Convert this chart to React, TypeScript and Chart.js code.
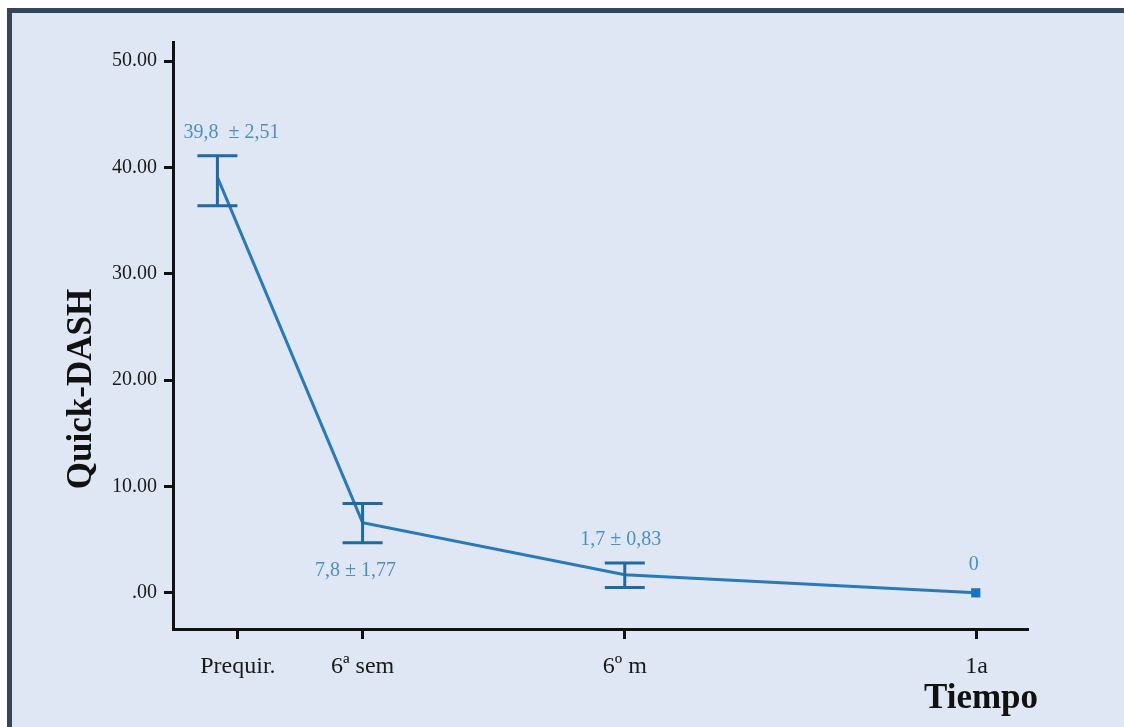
import React, { useEffect, useRef } from "react";
import { Chart, registerables } from "chart.js";

Chart.register(...registerables);

// ---- data ----
const timeLabels = ["Prequir.", "6ª sem", "6º m", "1a"];
const tickPositions = [7.6, 22.2, 52.9, 94.1];
const pointPositions = [5.2, 22.2, 52.9, 94.0];
const means = [39.1, 6.6, 1.7, 0];
const upperErr = [41.1, 8.4, 2.8, null];
const lowerErr = [36.4, 4.7, 0.5, null];
const valueLabels = ["39,8  ± 2,51", "7,8 ± 1,77", "1,7 ± 0,83", "0"];
const yTicks = [0, 10, 20, 30, 40, 50];

const SERIF = "'Liberation Serif', 'Times New Roman', serif";
const LINE = "#2a79b8";
const ERR = "#1f6aa2";
const LABEL = "#4a8fc6";

const framePlugin = {
  id: "frame",
  beforeDraw(chart: any) {
    const { ctx, width, height } = chart;
    ctx.save();
    ctx.fillStyle = "#ffffff";
    ctx.fillRect(0, 0, width, height);
    ctx.fillStyle = "#33465a";
    ctx.fillRect(7, 8, width - 7, height - 8);
    ctx.fillStyle = "#e0e7f4";
    ctx.fillRect(12, 13, width - 12, height - 13);
    ctx.restore();
  },
  afterDraw(chart: any) {
    const { ctx } = chart;
    ctx.save();
    ctx.fillStyle = "#111111";
    ctx.font = `bold 35px ${SERIF}`;
    ctx.textAlign = "center";
    ctx.textBaseline = "alphabetic";
    ctx.fillText("Tiempo", 981, 708);
    ctx.translate(91, 389);
    ctx.rotate(-Math.PI / 2);
    ctx.fillText("Quick-DASH", 0, 0);
    ctx.restore();
  },
};

const errorBarPlugin = {
  id: "errorBars",
  afterDatasetsDraw(chart: any) {
    const { ctx, scales } = chart;
    const xs = scales.x;
    const ys = scales.y;
    ctx.save();
    ctx.strokeStyle = ERR;
    ctx.lineWidth = 3;
    pointPositions.forEach((p, i) => {
      const hi = upperErr[i];
      const lo = lowerErr[i];
      if (hi === null || lo === null) return;
      const x = xs.getPixelForValue(p);
      const yHi = ys.getPixelForValue(hi);
      const yLo = ys.getPixelForValue(lo);
      ctx.beginPath();
      ctx.moveTo(x, yHi);
      ctx.lineTo(x, yLo);
      ctx.moveTo(x - 20, yHi);
      ctx.lineTo(x + 20, yHi);
      ctx.moveTo(x - 20, yLo);
      ctx.lineTo(x + 20, yLo);
      ctx.stroke();
    });
    // value labels
    const place = ["above", "below", "above", "above"];
    const dx = [14, -7, -4, -2];
    ctx.fillStyle = LABEL;
    ctx.font = `20px ${SERIF}`;
    ctx.textAlign = "center";
    ctx.textBaseline = "middle";
    pointPositions.forEach((p, i) => {
      const x = xs.getPixelForValue(p) + dx[i];
      let y;
      if (place[i] === "below") {
        y = ys.getPixelForValue(lowerErr[i] ?? means[i]) + 28;
      } else {
        y = ys.getPixelForValue(upperErr[i] ?? means[i]) - (upperErr[i] === null ? 28 : 23);
      }
      ctx.fillText(valueLabels[i], x, y);
    });
    ctx.restore();
  },
};

export default function App() {
  const ref = useRef<HTMLCanvasElement>(null);
  useEffect(() => {
    if (!ref.current) return;
    const chart = new Chart(ref.current, {
      type: "line",
      data: {
        datasets: [
          {
            data: pointPositions.map((p, i) => ({ x: p, y: means[i] })),
            borderColor: LINE,
            borderWidth: 3,
            backgroundColor: "#1a72c2",
            pointStyle: "rect",
            pointRadius: (c: any) => (upperErr[c.dataIndex] === null ? 6.5 : 0),
            pointBorderWidth: 0,
            tension: 0,
            fill: false,
          },
        ],
      },
      options: {
        animation: false,
        responsive: false,
        events: [],
        layout: { padding: { top: 42, right: 97, left: 0, bottom: 0 } },
        plugins: { legend: { display: false }, tooltip: { enabled: false } },
        scales: {
          x: {
            type: "linear",
            min: 0,
            max: 100,
            afterFit: (s: any) => {
              s.height = 98;
            },
            afterBuildTicks: (s: any) => {
              s.ticks = tickPositions.map((v) => ({ value: v }));
            },
            ticks: {
              autoSkip: false,
              maxRotation: 0,
              padding: 13,
              color: "#1a1a1a",
              font: { family: SERIF, size: 24 },
              callback: (v: any) => {
                const i = tickPositions.indexOf(Number(v));
                return i >= 0 ? timeLabels[i] : "";
              },
            },
            grid: {
              drawOnChartArea: false,
              drawTicks: true,
              tickLength: 10,
              lineWidth: 3,
              color: "#111111",
            },
            border: { display: true, color: "#111111", width: 3 },
          },
          y: {
            type: "linear",
            min: -3.4,
            max: 51.8,
            afterFit: (s: any) => {
              s.width = 173;
            },
            afterBuildTicks: (s: any) => {
              s.ticks = yTicks.map((v) => ({ value: v }));
            },
            ticks: {
              padding: 7,
              color: "#1a1a1a",
              font: { family: SERIF, size: 20 },
              callback: (v: any) => (Number(v) === 0 ? ".00" : Number(v).toFixed(2)),
            },
            grid: {
              drawOnChartArea: false,
              drawTicks: true,
              tickLength: 9,
              lineWidth: 3,
              color: "#111111",
            },
            border: { display: true, color: "#111111", width: 3 },
          },
        },
      },
      plugins: [framePlugin, errorBarPlugin],
    } as any);
    return () => chart.destroy();
  }, []);
  return (
    <div style={{ position: "absolute", left: 0, top: 0, width: 1124, height: 727 }}>
      <canvas ref={ref} width={1124} height={727} style={{ display: "block", width: 1124, height: 727 }} />
    </div>
  );
}
